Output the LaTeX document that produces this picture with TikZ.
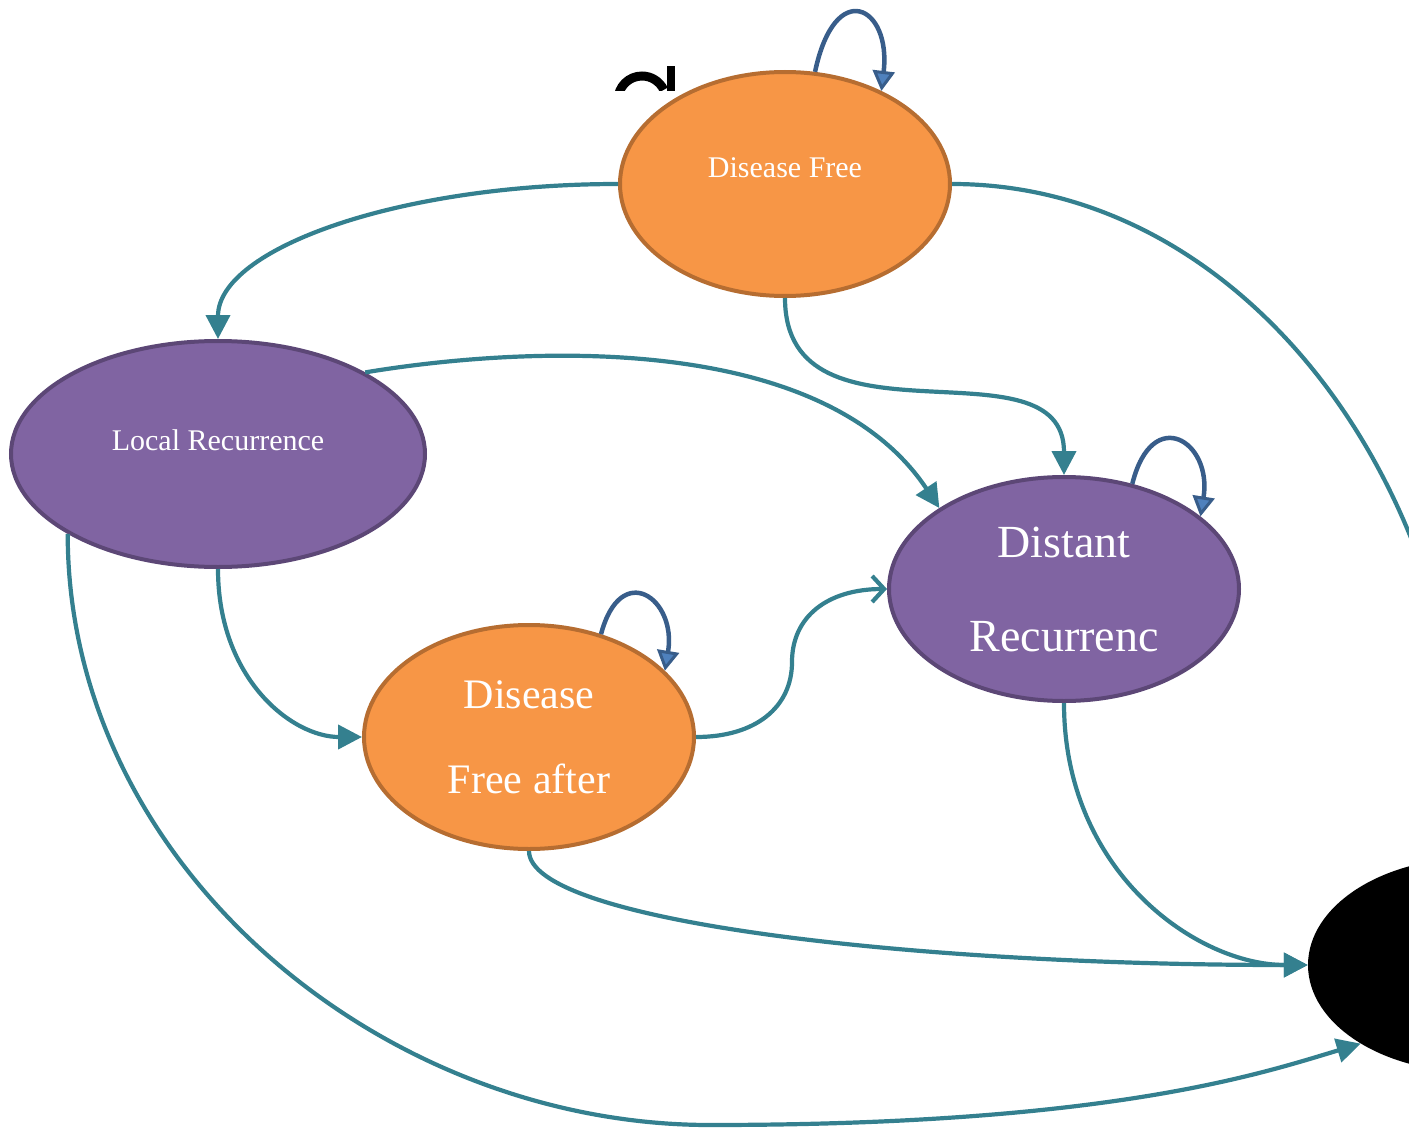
\documentclass[tikz,border=0pt]{standalone}
\usepackage{fontspec}
\setmainfont{Liberation Serif}
\usetikzlibrary{shapes.geometric,arrows.meta}
\definecolor{dforange}{HTML}{F79646}
\definecolor{dforangeline}{HTML}{B66D31}
\definecolor{recpurple}{HTML}{8064A2}
\definecolor{recpurpleline}{HTML}{5C4776}
\definecolor{edgeteal}{HTML}{34808F}
\definecolor{loopblue}{HTML}{385D8A}
\definecolor{loopfill}{HTML}{4F81BD}
\tikzset{
  freestate/.style={ellipse, draw=dforangeline, fill=dforange, line width=4pt, text=white, inner sep=0pt, align=center},
  recstate/.style={ellipse, draw=recpurpleline, fill=recpurple, line width=4pt, text=white, inner sep=0pt, align=center},
  trans/.style={draw=edgeteal, line width=4.2pt, -{Triangle[length=24pt,width=24pt]}},
  selfloop/.style={draw=loopblue, line width=4.5pt, -{Triangle[fill=loopfill, line width=3pt, length=20pt, width=22pt]}}
}
\begin{document}
\begin{tikzpicture}[x=1pt,y=-1pt]
  \useasboundingbox (0,0) rectangle (1409,1129);
  \clip (0,0) rectangle (1409,1129);
  \node[freestate, minimum width=330pt, minimum height=224pt, font=\fontsize{30}{36}\selectfont] (free) at (785,184)
    {\raisebox{32pt}{Disease Free}};
  \node[recstate, minimum width=414pt, minimum height=226pt, font=\fontsize{30}{36}\selectfont] (local) at (218,454)
    {\raisebox{28pt}{Local Recurrence}};
  \node[freestate, minimum width=330pt, minimum height=224pt, font=\fontsize{42}{85}\selectfont] (dfa) at (529,737)
    {Disease\\Free after};
  \node[recstate, minimum width=350pt, minimum height=224pt, font=\fontsize{46}{94}\selectfont] (dist) at (1064,589)
    {Distant\\Recurrenc};
  \node[ellipse, fill=black, minimum width=330pt, minimum height=214pt] (sink) at (1473,965) {};
  % clipped black glyph above Disease Free
  \begin{scope}
    \clip (600,55) rectangle (680,91);
    \draw[line width=9pt] (618,100) arc[start angle=180, end angle=335, radius=24];
    \fill (667,66) rectangle (675,92);
  \end{scope}
  \draw[trans] (free.180) .. controls +(-220,0) and +(0,-90) .. (local.90);
  \draw[trans] (free.0) .. controls +(300,0) and +(10,-358) .. (sink.95);
  \draw[trans] (free.270) .. controls +(0,160) and +(0,-140) .. (dist.90);
  \draw[trans] (local.29) .. controls +(150,-25) and +(-120,-180) .. (dist.147);
  \draw[trans] (local.270) .. controls +(0,110) and +(-70,0) .. (dfa.180);
  \draw[trans] (local.208) .. controls +(0,330) and +(-330,0) .. (710,1125)
    .. controls +(400,0) and +(-100,30) .. (sink.215);
  \draw[trans, -{Straight Barb[length=12pt,width=26pt]}] (dfa.0) .. controls +(60,0) and +(0,45) .. (792,662)
    .. controls +(0,-45) and +(-60,0) .. (dist.180);
  \draw[trans] (dfa.270) .. controls +(0,70) and +(-400,0) .. (sink.180);
  \draw[trans] (dist.270) .. controls +(0,170) and +(-110,0) .. (sink.180);
  \draw[selfloop] (free.75) .. controls +(20,-95) and +(10,-85) .. (free.44);
  \draw[selfloop] (dist.57) .. controls +(20,-80) and +(12,-75) .. (dist.28);
  \draw[selfloop] (dfa.55) .. controls +(20,-75) and +(12,-72) .. (dfa.26);
\end{tikzpicture}
\end{document}
